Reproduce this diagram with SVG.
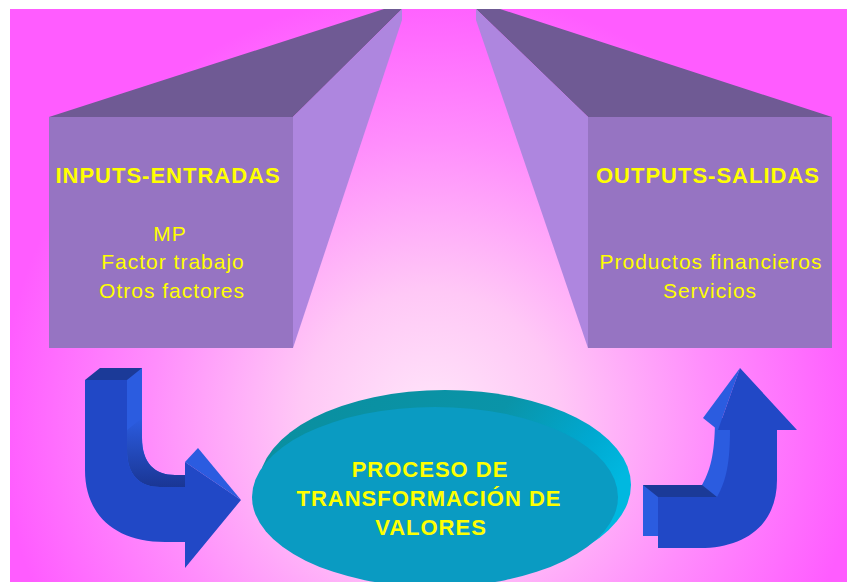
<svg xmlns="http://www.w3.org/2000/svg" width="847" height="582" viewBox="0 0 847 582">
  <defs>
    <radialGradient id="bg" gradientUnits="userSpaceOnUse" cx="430" cy="420" r="430">
      <stop offset="0" stop-color="#FFE6FA"/>
      <stop offset="0.3" stop-color="#FFC8F6"/>
      <stop offset="0.65" stop-color="#FF8EFC"/>
      <stop offset="1" stop-color="#FF5CFF"/>
    </radialGradient>
    <linearGradient id="rim" x1="0" y1="0" x2="1" y2="0.4">
      <stop offset="0" stop-color="#0A8E9E"/>
      <stop offset="0.6" stop-color="#0A94A8"/>
      <stop offset="0.85" stop-color="#00A8D0"/>
      <stop offset="1" stop-color="#00B8E0"/>
    </linearGradient>
    <linearGradient id="elbowL" x1="0" y1="0" x2="0" y2="1">
      <stop offset="0" stop-color="#2B5CE0"/>
      <stop offset="1" stop-color="#1A3694"/>
    </linearGradient>
    <style>
      .front { fill: #9674C2; }
      .top { fill: #6F5A94; }
      .side { fill: #AE86DF; }
      .arrow-front { fill: #2148C6; }
      .arrow-side { fill: #2B5CE0; }
      .arrow-dark { fill: #1B3A98; }
      .head { font-family: "Liberation Sans", Arial, sans-serif; font-weight: bold; font-size: 22px; fill: #FFFF00; text-anchor: middle; letter-spacing: 1px; }
      .body { font-family: "Liberation Sans", Arial, sans-serif; font-size: 21px; fill: #FFFF00; text-anchor: middle; letter-spacing: 1px; }
    </style>
  </defs>

  <!-- background panel -->
  <rect x="0" y="0" width="847" height="582" fill="#FFFFFF"/>
  <rect x="10" y="9" width="837" height="573" fill="url(#bg)"/>

  <!-- inputs block -->
  <g id="inputs">
    <polygon class="top" points="49,117 293,117 402,9 384,9"/>
    <polygon class="side" points="293,117 402,9 402,20 293,348"/>
    <rect class="front" x="49" y="117" width="244" height="231"/>
    <text class="head" x="168" y="183">INPUTS-ENTRADAS</text>
    <text class="body" x="170" y="241">MP</text>
    <text class="body" x="173" y="269">Factor trabajo</text>
    <text class="body" x="172" y="298">Otros factores</text>
  </g>

  <!-- outputs block -->
  <g id="outputs">
    <polygon class="top" points="588,117 832,117 500,9 476,9"/>
    <polygon class="side" points="476,9 588,117 588,348 476,20"/>
    <rect class="front" x="588" y="117" width="244" height="231"/>
    <text class="head" x="708" y="183">OUTPUTS-SALIDAS</text>
    <text class="body" x="711" y="269">Productos financieros</text>
    <text class="body" x="710" y="298">Servicios</text>
  </g>

  <!-- process disc -->
  <g id="proceso">
    <ellipse cx="445" cy="485" rx="186" ry="95" fill="url(#rim)"/>
    <ellipse cx="435" cy="497" rx="183" ry="90" fill="#0A9BC2"/>
    <text class="head" x="430" y="477">PROCESO DE</text>
    <text class="head" x="429" y="506">TRANSFORMACIÓN DE</text>
    <text class="head" x="431" y="535">VALORES</text>
  </g>

  <!-- connectors -->
  <g id="connectors">
    <!-- input arrow: down then right -->
    <g id="arrow-in">
      <path class="arrow-side" transform="translate(15,-12)" d="M85,380 L127,380 L127,450 C127,475 140,487 160,487 L185,487 L185,542 L165,542 C115,542 85,515 85,470 Z"/>
      <polygon class="arrow-dark" points="85,380 100,368 142,368 127,380"/>
      <path fill="url(#elbowL)" d="M127,430 L142,418 L142,438 C142,463 155,475 175,475 L200,475 L185,487 L160,487 C140,487 127,475 127,450 Z"/>
      <polygon class="arrow-side" points="185,462 198,448 241,500"/>
      <path class="arrow-front" d="M85,380 L127,380 L127,450 C127,475 140,487 160,487 L185,487 L185,462 L241,500 L185,568 L185,542 L165,542 C115,542 85,515 85,470 Z"/>
    </g>
    <!-- output arrow: right then up -->
    <g id="arrow-out">
      <path class="arrow-side" transform="translate(-15,-12)" d="M658,497 L717,497 C727,480 730,460 730,430 L777,430 L777,480 C777,525 745,548 700,548 L658,548 Z"/>
      <polygon class="arrow-dark" points="643,485 702,485 717,497 658,497"/>
      <polygon class="arrow-side" points="718,430 703,418 740,368"/>
      <path class="arrow-front" d="M658,497 L717,497 C727,480 730,460 730,430 L718,430 L740,368 L797,430 L777,430 L777,480 C777,525 745,548 700,548 L658,548 Z"/>
    </g>
  </g>
</svg>
